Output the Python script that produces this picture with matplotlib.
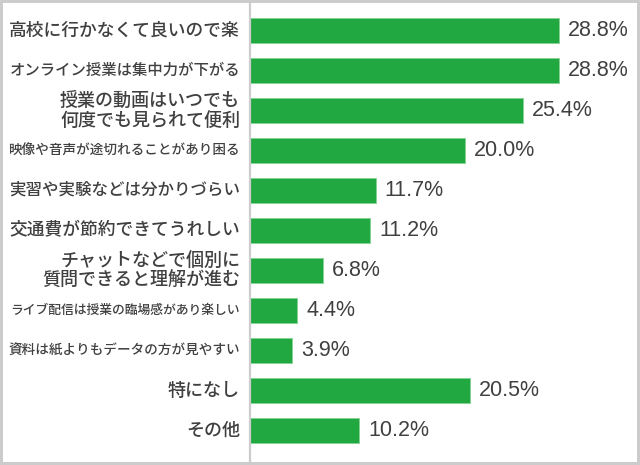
import matplotlib.pyplot as plt
from matplotlib.transforms import offset_copy

# 回答項目と割合(%)
labels = ["高校に行かなくて良いので楽",
          "オンライン授業は集中力が下がる",
          "授業の動画はいつでも\n何度でも見られて便利",
          "映像や音声が途切れることがあり困る",
          "実習や実験などは分かりづらい",
          "交通費が節約できてうれしい",
          "チャットなどで個別に\n質問できると理解が進む",
          "ライブ配信は授業の臨場感があり楽しい",
          "資料は紙よりもデータの方が見やすい",
          "特になし",
          "その他"]
values = [28.8, 28.8, 25.4, 20.0, 11.7, 11.2, 6.8, 4.4, 3.9, 20.5, 10.2]

plt.rcParams['font.family'] = ['Noto Sans CJK JP', 'DejaVu Sans']

fig = plt.figure(figsize=(6.4, 4.65), dpi=100, edgecolor='#cccccc', linewidth=3)
ax = fig.add_axes([250 / 640, 3 / 465, 387 / 640, 459 / 465])

pos = list(range(len(labels)))
ax.barh(pos, values, height=0.62, color='#22a840', edgecolor='#86d295', linewidth=0.7)

ax.set_xlim(0, 36.07)
ax.set_ylim(10.785, -0.686)

for s in ['top', 'right', 'bottom']:
    ax.spines[s].set_visible(False)
ax.spines['left'].set_color('#cccccc')
ax.spines['left'].set_linewidth(1.6)
ax.set_xticks([])
ax.set_yticks([])

# 項目名（幅に収まらない場合は文字を小さくする）
renderer = fig.canvas.get_renderer()
lab_tr = offset_copy(ax.transData, fig=fig, x=-10, y=0, units='dots')
for i, lab in enumerate(labels):
    t = ax.text(0, i, lab, transform=lab_tr, ha='right', va='center',
                fontsize=13, color='#404040', linespacing=1.15,
                multialignment='right', fontweight='medium')
    w = t.get_window_extent(renderer).width
    if w > 230:
        t.set_fontsize(13 * 230 / w)

# 割合の数値
val_tr = offset_copy(ax.transData, fig=fig, x=9, y=0, units='dots')
for i, v in enumerate(values):
    ax.text(v, i, f"{v:.1f}%", transform=val_tr, ha='left', va='center',
            fontsize=15.5, color='#404040', family=['Liberation Sans', 'DejaVu Sans'])

fig.savefig('out.png', dpi=100, edgecolor=fig.get_edgecolor())
